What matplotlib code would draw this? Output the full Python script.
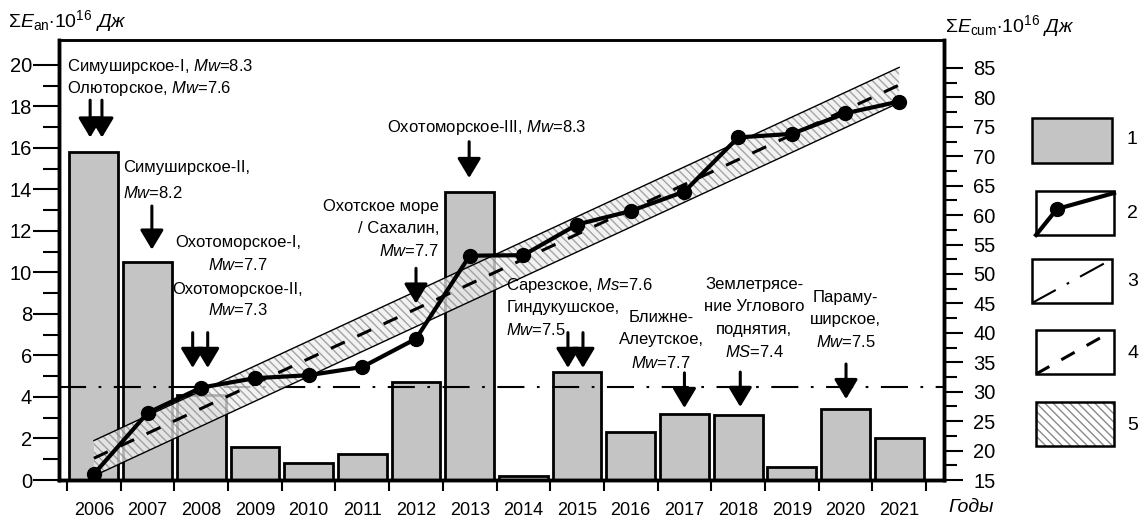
import numpy as np
import matplotlib.pyplot as plt
from matplotlib.patches import Rectangle

plt.rcParams['font.family'] = ['Liberation Sans', 'DejaVu Sans']
plt.rcParams['mathtext.fontset'] = 'custom'
plt.rcParams['mathtext.rm'] = 'Liberation Sans'
plt.rcParams['mathtext.it'] = 'Liberation Sans:italic'
plt.rcParams['hatch.linewidth'] = 1.0

years = list(range(2006, 2022))
e_annual = [15.8, 10.5, 4.1, 1.6, 0.8, 1.25, 4.7, 13.9, 0.2, 5.2, 2.3, 3.2, 3.15, 0.65, 3.4, 2.0]
e_cum = [16.0, 26.4, 30.7, 32.3, 32.8, 34.2, 39.0, 53.1, 53.2, 58.4, 60.7, 64.0, 73.2, 73.8, 77.3, 79.3]
e_mean = 4.5                   # среднегодовое (левая шкала)
trend_years = [2006, 2021]
trend_vals = [18.7, 82.1]      # линейный тренд накопленной энергии
band_half = 3.0

# стрелки: x (год), верх, остриё (левая шкала)
arrows = [(2005.93, 18.3, 16.5), (2006.15, 18.3, 16.5),
          (2007.08, 13.2, 11.1),
          (2007.84, 7.1, 5.4), (2008.12, 7.1, 5.4),
          (2012.0, 10.2, 8.5),
          (2012.99, 16.3, 14.55),
          (2014.83, 7.1, 5.4), (2015.11, 7.1, 5.4),
          (2017.0, 5.16, 3.47),
          (2018.04, 5.2, 3.52),
          (2020.01, 5.59, 3.9)]

MW = r'$\mathit{Mw}$'
labels = [
    (2005.5, 'left', [19.9, 18.84], ['Симуширское-I, ' + MW + '=8.3', 'Олюторское, ' + MW + '=7.6']),
    (2006.54, 'left', [15.04, 13.83], ['Симуширское-II,', MW + '=8.2']),
    (2008.68, 'center', [11.42, 10.36, 9.16, 8.19],
     ['Охотоморское-I,', MW + '=7.7', 'Охотоморское-II,', MW + '=7.3']),
    (2012.43, 'right', [13.16, 12.10, 11.04], ['Охотское море', '/ Сахалин,', MW + '=7.7']),
    (2013.32, 'center', [16.96], ['Охотоморское-III, ' + MW + '=8.3']),
    (2013.68, 'left', [9.35, 8.29, 7.23],
     ['Сарезское, ' + r'$\mathit{Ms}$' + '=7.6', 'Гиндукушское,', MW + '=7.5']),
    (2016.57, 'center', [7.81, 6.75, 5.64], ['Ближне-', 'Алеутское,', MW + '=7.7']),
    (2018.3, 'center', [9.40, 8.34, 7.23, 6.17],
     ['Землетрясе-', 'ние Углового', 'поднятия,', r'$\mathit{MS}$' + '=7.4']),
    (2020.0, 'center', [8.77, 7.71, 6.65], ['Параму-', 'ширское,', MW + '=7.5']),
]

W, H = 1145, 520
fig = plt.figure(figsize=(W / 100, H / 100), dpi=100)
ax = fig.add_axes([59 / W, 40 / H, 885 / W, 440 / H])
ax2 = ax.twinx()

# 1 - годовые значения
ax.bar(years, e_annual, width=0.91, color='#c3c4c3', edgecolor='black', linewidth=2.0, zorder=2)
# 3 - среднее
ax.axhline(e_mean, color='black', lw=1.5, ls=(0, (13, 6, 1.3, 6)), zorder=3)

# 5 - полоса, 4 - тренд, 2 - накопленная
tx = np.array(trend_years, dtype=float)
tv = np.array(trend_vals)
ax2.fill_between(tx, tv - band_half, tv + band_half, facecolor='#eeeeee', alpha=0.75,
                 edgecolor='#8a8a8a', hatch='\\\\\\\\', linewidth=0, zorder=1)
ax2.plot(tx, tv + band_half, color='black', lw=1.0, zorder=2)
ax2.plot(tx, tv - band_half, color='black', lw=1.0, zorder=2)
ax2.plot(tx, tv, color='black', lw=2.2, ls=(0, (5, 4.5)), zorder=3)
ax2.plot(years, e_cum, color='black', lw=3.0, marker='o', ms=10, zorder=4)

ax.set_xlim(2005.35, 2021.835)
ax.set_ylim(0, 21.2)
ax2.set_ylim(15, 89.75)

ax.set_xticks(np.arange(2005.5, 2022, 1.0))
ax.set_xticklabels([])
ax.set_xticks(years, minor=True)
ax.set_xticklabels([str(y) for y in years], minor=True, fontsize=13,
                   family=['Liberation Sans Narrow', 'Liberation Sans'])
ax.tick_params(axis='x', which='major', direction='out', length=8, width=1.5)
ax.tick_params(axis='x', which='minor', length=0, pad=15.5)

ax.set_yticks(range(0, 21, 2))
ax.set_yticks(range(1, 20, 2), minor=True)
ax.tick_params(axis='y', which='major', direction='out', length=19, width=1.5, pad=0.5, labelsize=14.5)
ax.tick_params(axis='y', which='minor', direction='out', length=11.5, width=1.5)

ax2.set_yticks(range(15, 86, 5))
ax2.set_yticks(np.arange(17.5, 85, 5), minor=True)
ax2.tick_params(axis='y', which='major', direction='out', length=14, width=1.5, pad=7, labelsize=14.5)
ax2.tick_params(axis='y', which='minor', direction='out', length=9, width=1.5)

for a in (ax, ax2):
    for s in ('left', 'right', 'bottom'):
        a.spines[s].set_linewidth(2.5)
    a.spines['top'].set_linewidth(1.8)

# подписи событий
for x, ha, ys, lines in labels:
    for y, t in zip(ys, lines):
        ax2.text(x, y, t, transform=ax.transData, ha=ha, va='center', fontsize=12, zorder=6)
for x, y0, y1 in arrows:
    ax2.annotate('', xy=(x, y1), xytext=(x, y0), xycoords=ax.transData, textcoords=ax.transData,
                 arrowprops=dict(arrowstyle='-|>,head_length=0.6,head_width=0.36', color='black',
                                 lw=2.2, mutation_scale=20, shrinkA=0, shrinkB=0), zorder=6)

fig.text(8 / W, 1 - 21 / H, r'$\Sigma\mathit{E}_{\mathrm{an}}{\cdot}10^{16}\ \mathit{Дж}$',
         ha='left', va='center', fontsize=14)
fig.text(945 / W, 1 - 26 / H, r'$\Sigma\mathit{E}_{\mathrm{cum}}{\cdot}10^{16}\ \mathit{Дж}$',
         ha='left', va='center', fontsize=14)
fig.text(948 / W, 1 - 508 / H, 'Годы', ha='left', va='center', fontsize=14, style='italic')

# легенда
lg = fig.add_axes([0, 0, 1, 1])
lg.set_xlim(0, W)
lg.set_ylim(H, 0)
lg.axis('off')
lg.add_patch(Rectangle((1032, 118), 80, 45, facecolor='#c3c4c3', edgecolor='black', lw=1.8))
lg.add_patch(Rectangle((1036, 191), 78, 44, facecolor='white', edgecolor='black', lw=1.8))
lg.plot([1036, 1057, 1114], [235, 209, 193], color='black', lw=3.0, marker='o', ms=10, markevery=[1])
lg.add_patch(Rectangle((1032, 259), 80, 44, facecolor='white', edgecolor='black', lw=1.8))
lg.plot([1032, 1105], [303, 263], color='black', lw=1.5, ls=(0, (13, 6, 1.3, 6)))
lg.add_patch(Rectangle((1036, 330), 78, 44, facecolor='white', edgecolor='black', lw=1.8))
lg.plot([1036, 1100], [374, 338], color='black', lw=2.2, ls=(0, (5, 4.5)))
lg.add_patch(Rectangle((1036, 402), 78, 44, facecolor='white', edgecolor='#8a8a8a', lw=0,
                       hatch='\\\\\\\\'))
lg.add_patch(Rectangle((1036, 402), 78, 44, facecolor='none', edgecolor='black', lw=1.8))
for i, yy in enumerate([140, 213, 282, 353, 425]):
    lg.text(1127, yy, str(i + 1), ha='left', va='center', fontsize=14)

fig.savefig('out.png', dpi=100)
